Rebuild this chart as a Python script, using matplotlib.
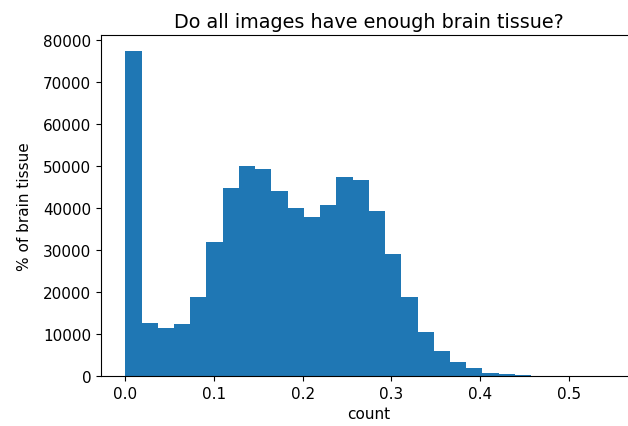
import numpy as np
import matplotlib
matplotlib.use('Agg')
import matplotlib.pyplot as plt

# histogram of brain tissue fraction, 30 bins over [0, 0.549]
bin_edges = np.linspace(0.0, 0.549, 31)
counts = [77300, 12700, 11500, 12300, 18800, 31800, 44800, 50100, 49300, 44100,
          39900, 37800, 40600, 47300, 46700, 39200, 29100, 18700, 10500, 6000,
          3400, 1800, 800, 400, 350, 120, 50, 20, 8, 3]

plt.rcParams['font.size'] = 11

fig = plt.figure(figsize=(6.28, 4.27), dpi=100)
ax = fig.add_axes([0.1608, 0.117, 0.853, 0.7986])
ax.hist(bin_edges[:-1], bins=bin_edges, weights=counts)
# right side of the frame is cut off in the original screenshot
ax.spines['right'].set_visible(False)

ax.set_title('Do all images have enough brain tissue?', fontsize=13.8)
ax.set_xlabel('count')
ax.set_ylabel('% of brain tissue', labelpad=8)

fig.savefig('out.png', dpi=100)
